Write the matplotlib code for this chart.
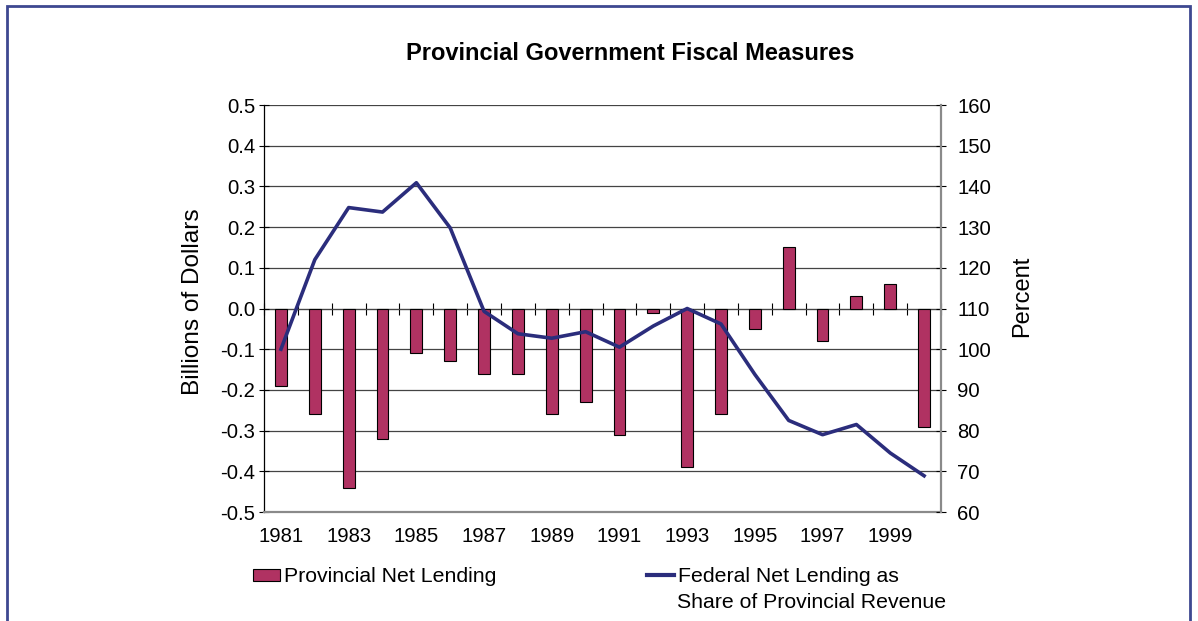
import numpy as np
import matplotlib
matplotlib.use("Agg")
import matplotlib.pyplot as plt
from matplotlib.patches import Rectangle, Patch
from matplotlib.lines import Line2D

plt.rcParams["font.family"] = ["Liberation Sans", "DejaVu Sans"]

years = list(range(1981, 2001))
provincial_net_lending = [-0.19, -0.26, -0.44, -0.32, -0.11, -0.13, -0.16, -0.16, -0.26, -0.23,
                          -0.31, -0.01, -0.39, -0.26, -0.05, 0.15, -0.08, 0.03, 0.06, -0.29]
federal_share_pct = [100.0, 122.0, 134.8, 133.7, 140.9, 129.8, 109.3, 103.8, 102.7, 104.3,
                     100.5, 105.7, 110.0, 106.2, 93.8, 82.5, 79.0, 81.5, 74.5, 68.9]
tick_years = years[::2]
left_ticks = [-0.5, -0.4, -0.3, -0.2, -0.1, 0.0, 0.1, 0.2, 0.3, 0.4, 0.5]
right_ticks = [60, 70, 80, 90, 100, 110, 120, 130, 140, 150, 160]

bar_color = "#B03262"
line_color = "#2B2D7C"
frame_color = "#3D4890"
FS = 14.6
LFS = 15.3

fig = plt.figure(figsize=(11.98, 6.21), dpi=100)
ax = fig.add_axes([0.2204, 0.1755, 0.5651, 0.6554])
x = np.arange(len(years))

ax.bar(x, provincial_net_lending, width=0.35, color=bar_color, edgecolor="black",
       linewidth=0.8, zorder=3)
ax.set_xlim(-0.5, len(years) - 0.5)
ax.set_ylim(-0.5, 0.5)
ax.set_yticks(left_ticks)
ax.set_yticklabels([f"{v:.1f}" for v in left_ticks])
ax.yaxis.grid(True, color="#444444", lw=0.9, zorder=0)
ax.set_axisbelow(True)
ax.set_xticks([years.index(y) for y in tick_years])
ax.set_xticklabels([str(y) for y in tick_years])
ax.tick_params(axis="x", length=0, pad=11, labelsize=FS)
ax.tick_params(axis="y", direction="inout", length=7, width=0.8, labelsize=FS, pad=3)
ax.spines["top"].set_visible(False)
ax.spines["right"].set_visible(False)
ax.spines["bottom"].set_color("#8a8a8a")
ax.spines["bottom"].set_linewidth(1.6)
ax.spines["left"].set_linewidth(0.9)

# zero line with category-boundary ticks
zero = ax.secondary_xaxis(0.5)
zero.set_xticks(np.arange(-0.5, len(years), 1.0))
zero.set_xticklabels([])
zero.tick_params(direction="inout", length=8, width=0.8)
zero.spines["bottom"].set_linewidth(1.0)

ax2 = ax.twinx()
ax2.plot(x, federal_share_pct, color=line_color, lw=2.6, zorder=4)
ax2.set_ylim(60, 160)
ax2.set_yticks(right_ticks)
ax2.tick_params(axis="y", direction="inout", length=7, width=0.8, labelsize=FS, pad=8)
for s in ("top", "left", "bottom"):
    ax2.spines[s].set_visible(False)
ax2.spines["right"].set_color("#8a8a8a")
ax2.spines["right"].set_linewidth(1.6)

fig.text(630 / 1198, 1 - 53 / 621, "Provincial Government Fiscal Measures", ha="center",
         va="center", fontsize=17, fontweight="bold")
fig.text(193 / 1198, 1 - 302 / 621, "Billions of Dollars", rotation=90, ha="center",
         va="center", fontsize=17.6)
fig.text(1022.5 / 1198, 1 - 296 / 621, "Percent", rotation=90, ha="center", va="center",
         fontsize=17)

fig.legend(handles=[Patch(facecolor=bar_color, edgecolor="black", lw=0.8)],
           labels=["Provincial Net Lending"], loc="center left",
           bbox_to_anchor=(253 / 1198, 1 - 577 / 621), frameon=False, fontsize=LFS,
           handlelength=1.25, handleheight=0.5, handletextpad=0.2, borderpad=0, borderaxespad=0)
fig.legend(handles=[Line2D([], [], color=line_color, lw=3.0)],
           labels=["Federal Net Lending as"], loc="center left",
           bbox_to_anchor=(647 / 1198, 1 - 577 / 621), frameon=False, fontsize=LFS,
           handlelength=1.25, handletextpad=0.2, borderpad=0, borderaxespad=0)
fig.text(677 / 1198, 1 - 603 / 621, "Share of Provincial Revenue", ha="left", va="center",
         fontsize=LFS)

fig.patches.append(Rectangle((7 / 1198, -0.05), (1190 - 7) / 1198, 0.05 + 1 - 6 / 621,
                             transform=fig.transFigure, fill=False, edgecolor=frame_color,
                             lw=2.0, zorder=10))

fig.savefig("out.png", dpi=100)
